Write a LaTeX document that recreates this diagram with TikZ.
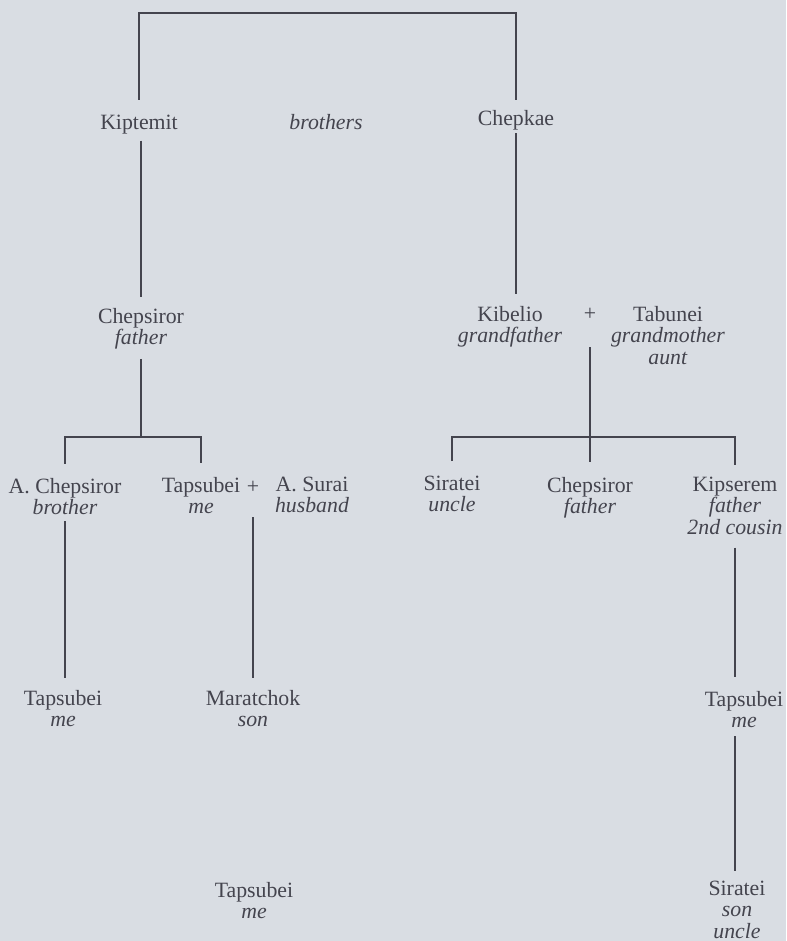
\documentclass[tikz,border=0pt]{standalone}
\usepackage{fontspec}
\setmainfont{Liberation Serif}
\usetikzlibrary{calc}
\definecolor{bg}{HTML}{D9DDE3}
\definecolor{ink}{HTML}{44444E}
\begin{document}
\begin{tikzpicture}[x=1pt,y=-1pt,
  person/.style={anchor=north, inner sep=0pt, outer sep=0pt, align=center, text=ink, font=\fontsize{21.8}{21.5}\selectfont},
  plussign/.style={anchor=base, inner sep=0pt, outer sep=0pt, text=ink, font=\fontsize{21.8}{21.5}\selectfont},
  link/.style={draw=ink, line width=1.6pt}]
\fill[bg] (0,0) rectangle (786,941);
\useasboundingbox (0,0) rectangle (786,941);

% generation 1
\node[person] (kip) at (139,115) {Kiptemit};
\node[person] (bro) at (326,114) {\textit{brothers}};
\node[person] (chk) at (516,110) {Chepkae};

% generation 2
\node[person] (cps) at (141,308) {Chepsiror\\\textit{father}};
\node[person] (kib) at (510,306) {Kibelio\\\textit{grandfather}};
\node[plussign] (plus1) at (590,320) {+};
\node[person] (tab) at (668,306) {Tabunei\\\textit{grandmother}\\\textit{aunt}};

% generation 3
\node[person] (ach) at (65,478) {A. Chepsiror\\\textit{brother}};
\node[person] (tap1) at (201,477) {Tapsubei\\\textit{me}};
\node[plussign] (plus2) at (253,493) {+};
\node[person] (sur) at (312,477) {A. Surai\\\textit{husband}};
\node[person] (sir1) at (452,476) {Siratei\\\textit{uncle}};
\node[person] (cps2) at (590,477) {Chepsiror\\\textit{father}};
\node[person] (kis) at (735,477) {Kipserem\\\textit{father}\\\textit{2nd cousin}};

% generation 4
\node[person] (tap2) at (63,690) {Tapsubei\\\textit{me}};
\node[person] (mar) at (253,690) {Maratchok\\\textit{son}};
\node[person] (tap4) at (744,691) {Tapsubei\\\textit{me}};

% generation 5
\node[person] (tap3) at (254,882) {Tapsubei\\\textit{me}};
\node[person] (sir2) at (737,881) {Siratei\\\textit{son}\\\textit{uncle}};

% junctions
\coordinate (b0) at (328,13);
\coordinate (b1) at (141,437);
\coordinate (b2) at (590,437);

% connectors
\draw[link] ([yshift=15pt]kip.north) |- (b0) -| ([yshift=10pt]chk.north);
\draw[link] ([yshift=-6.5pt]kip.south -| cps.north) -- ([yshift=11pt]cps.north);
\draw[link] ([yshift=-3.5pt]chk.south) -- ([yshift=12pt]kib.north -| chk.south);

\draw[link] ([yshift=-9.5pt]cps.south) -- (b1);
\draw[link] ([yshift=14.5pt]ach.north) |- (b1) -| ([yshift=14.5pt]tap1.north);

\draw[link] ([yshift=-27pt]plus1.base) -- ([yshift=15pt]cps2.north);
\draw[link] ([yshift=15pt]sir1.north) |- (b2) -| ([yshift=12pt]kis.north);

\draw[link] ([yshift=-6.5pt]ach.south) -- ([yshift=12pt]tap2.north -| ach.south);
\draw[link] ([yshift=-24pt]plus2.base) -- ([yshift=12pt]mar.north -| plus2.base);
\draw[link] ([yshift=-13pt]kis.south) -- ([yshift=14pt]tap4.north -| kis.south);
\draw[link] ([yshift=-8.5pt]tap4.south -| kis.south) -- ([yshift=10pt]sir2.north -| kis.south);
\end{tikzpicture}
\end{document}
